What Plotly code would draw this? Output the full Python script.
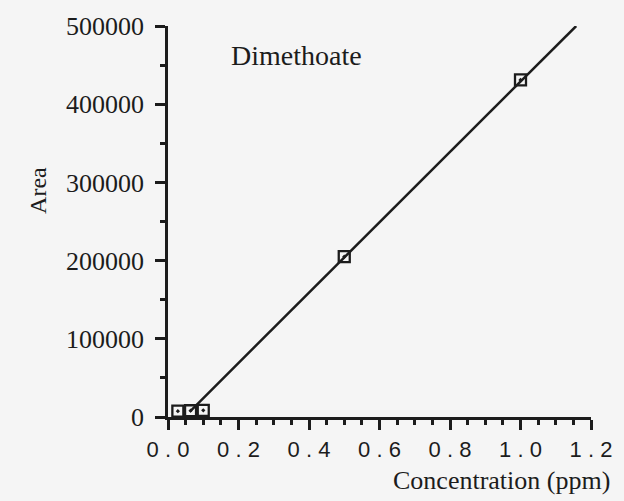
import plotly.graph_objects as go

# data
conc = [0.028, 0.064, 0.10, 0.50, 1.00]
area = [7500, 8000, 8500, 205000, 431000]
fit_x = [0.062, 1.158]
fit_y = [7000, 500000]

x_tickvals = [0.0, 0.2, 0.4, 0.6, 0.8, 1.0, 1.2]
x_ticktext = ["0 . 0", "0 . 2", "0 . 4", "0 . 6", "0 . 8", "1 . 0", "1 . 2"]
y_tickvals = [0, 100000, 200000, 300000, 400000, 500000]
y_ticktext = ["0", "100000", "200000", "300000", "400000", "500000"]

ink = "#1c1c1c"
bg = "#f5f5f5"

fig = go.Figure()
fig.add_trace(go.Scatter(x=fit_x, y=fit_y, mode="lines",
                         line=dict(color=ink, width=2.5), showlegend=False))
fig.add_trace(go.Scatter(x=conc, y=area, mode="markers",
                         marker=dict(symbol="square-open-dot", size=11,
                                     color=ink, line=dict(color=ink, width=2.3)),
                         showlegend=False, cliponaxis=False))

fig.update_layout(
    width=624, height=501,
    margin=dict(l=168, r=27, t=22, b=84),
    paper_bgcolor=bg, plot_bgcolor=bg,
    font=dict(family="Liberation Serif", color=ink),
    xaxis=dict(range=[0, 1.2], showgrid=False, zeroline=False,
               showline=True, linecolor=ink, linewidth=2.5,
               ticks="outside", ticklen=10, tickwidth=2.5, tickcolor=ink,
               tickvals=x_tickvals, ticktext=x_ticktext,
               tickfont=dict(family="Liberation Sans", size=22, color=ink),
               ticklabelstandoff=1,
               minor=dict(ticks="outside", ticklen=5, tickwidth=2.5, tickcolor=ink, dtick=0.05,
                          showgrid=False)),
    yaxis=dict(range=[0, 500000], showgrid=False, zeroline=False,
               showline=True, linecolor=ink, linewidth=2.5,
               ticks="outside", ticklen=10, tickwidth=2.5, tickcolor=ink,
               tickvals=y_tickvals, ticktext=y_ticktext,
               tickfont=dict(family="Liberation Serif", size=26, color=ink),
               ticklabelstandoff=6,
               minor=dict(ticks="outside", ticklen=5, tickwidth=2.5, tickcolor=ink, dtick=50000,
                          showgrid=False)),
    annotations=[
        dict(text="Dimethoate", x=0.365, y=462000, xref="x", yref="y",
             showarrow=False, font=dict(family="Liberation Serif", size=28, color=ink)),
        dict(text="Concentration (ppm)", x=(618 - 168) / 429, y=(418 - 482) / 396,
             xref="paper", yref="paper", xanchor="right", yanchor="middle",
             showarrow=False, font=dict(family="Liberation Serif", size=26, color=ink)),
        dict(text="Area", x=(21 - 168) / 429, y=(418 - 189) / 396,
             xref="paper", yref="paper", textangle=-90,
             showarrow=False, font=dict(family="Liberation Serif", size=24, color=ink)),
    ],
)

fig.write_html("out.html")
